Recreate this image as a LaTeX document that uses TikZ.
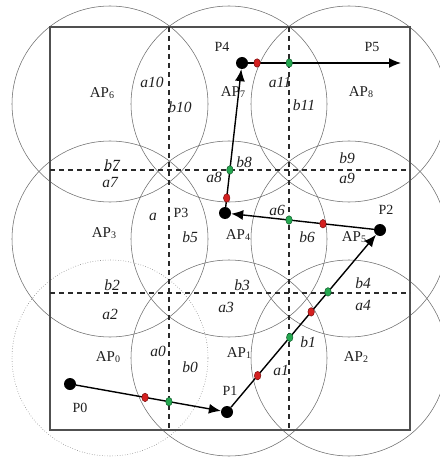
\documentclass[tikz,border=0pt]{standalone}
\usepackage{fontspec}
\setmainfont{Liberation Serif}
\usetikzlibrary{arrows.meta,calc,shapes.geometric}
\definecolor{Ink}{HTML}{1F1F1F}
\definecolor{Rim}{HTML}{6B6B6B}
\definecolor{Frame}{HTML}{505050}
\definecolor{Grid}{HTML}{2A2A2A}
\definecolor{Cross}{HTML}{D42020}
\definecolor{CrossEdge}{HTML}{7A1010}
\definecolor{Hand}{HTML}{25A850}
\definecolor{HandEdge}{HTML}{0F5C2B}
\newcommand\APsub[1]{AP\raisebox{-1pt}{\fontsize{10}{10}\selectfont#1}}
\tikzset{
  cell/.style={draw=Rim,circle,minimum size=196pt,inner sep=0pt,line width=.55pt},
  frame/.style={draw=Frame,line width=1.2pt},
  gridline/.style={draw=Grid,dash pattern=on 5pt off 4pt,line width=1.1pt},
  apname/.style={font=\fontsize{15}{15}\selectfont,text=Ink,inner sep=0pt},
  ptname/.style={font=\fontsize{14}{14}\selectfont,text=Ink,inner sep=0pt},
  zone/.style={font=\fontsize{15.5}{15.5}\selectfont\itshape,text=Ink,inner sep=0pt},
  stop/.style={circle,fill=black,minimum size=12pt,inner sep=0pt},
  reddot/.style={ellipse,draw=CrossEdge,fill=Cross,line width=.5pt,minimum width=6.5pt,minimum height=8.5pt,inner sep=0pt},
  greendot/.style={ellipse,draw=HandEdge,fill=Hand,line width=.5pt,minimum width=6.5pt,minimum height=8.5pt,inner sep=0pt},
  flow/.style={-{Latex[length=12pt,width=10pt]},draw=black,line width=1.4pt}
}
\begin{document}
\begin{tikzpicture}[x=1pt,y=-1pt]
  \useasboundingbox (0,0) rectangle (439,457);
  \node[cell,dotted] (c0) at (110,358) {};
  \node[cell] (c1) at (229,358) {};
  \node[cell] (c2) at (349,358) {};
  \node[cell] (c3) at (110,239) {};
  \node[cell] (c4) at (229,239) {};
  \node[cell] (c5) at (349,239) {};
  \node[cell] (c6) at (110,104) {};
  \node[cell] (c7) at (229,104) {};
  \node[cell] (c8) at (349,104) {};
  \draw[frame] (50,27) rectangle (410,430);
  \draw[gridline] (169,27) -- (169,430);
  \draw[gridline] (289,27) -- (289,430);
  \draw[gridline] (50,170) -- (410,170);
  \draw[gridline] (50,293) -- (410,293);

  \node[apname] (l6) at (102,93) {\APsub{6}};
  \node[apname] (l7) at (233,92) {\APsub{7}};
  \node[apname] (l8) at (361,92) {\APsub{8}};
  \node[apname] (l3) at (104,233) {\APsub{3}};
  \node[apname] (l4) at (238,235) {\APsub{4}};
  \node[apname] (l5) at (354,237) {\APsub{5}};
  \node[apname] (l0) at (108,357) {\APsub{0}};
  \node[apname] (l1) at (239,353) {\APsub{1}};
  \node[apname] (l2) at (356,357) {\APsub{2}};

  \node[ptname] (n0) at (80,408) {P0};
  \node[ptname] (n1) at (230,391) {P1};
  \node[ptname] (n2) at (386,210) {P2};
  \node[ptname] (n3) at (181,213) {P3};
  \node[ptname] (n4) at (222,47) {P4};
  \node[ptname] (n5) at (372,47) {P5};

  \node[zone] (za10) at (152,82) {a10};
  \node[zone] (zb10) at (180,107) {b10};
  \node[zone] (za11) at (280,82) {a11};
  \node[zone] (zb11) at (304,105) {b11};
  \node[zone] (zb7) at (112,165) {b7};
  \node[zone] (za7) at (110,183) {a7};
  \node[zone] (zb8) at (244,162) {b8};
  \node[zone] (za8) at (214,177) {a8};
  \node[zone] (zb9) at (347,158) {b9};
  \node[zone] (za9) at (347,178) {a9};
  \node[zone] (za5) at (153,217) {a};
  \node[zone] (zb5) at (190,237) {b5};
  \node[zone] (za6) at (277,210) {a6};
  \node[zone] (zb6) at (307,237) {b6};
  \node[zone] (zb2) at (112,285) {b2};
  \node[zone] (za2) at (110,314) {a2};
  \node[zone] (zb3) at (242,285) {b3};
  \node[zone] (za3) at (226,307) {a3};
  \node[zone] (zb4) at (363,283) {b4};
  \node[zone] (za4) at (363,305) {a4};
  \node[zone] (za0) at (158,351) {a0};
  \node[zone] (zb0) at (190,367) {b0};
  \node[zone] (za1) at (281,370) {a1};
  \node[zone] (zb1) at (308,342) {b1};

  \node[stop] (p0) at (70,384) {};
  \node[stop] (p1) at (227,412) {};
  \node[stop] (p2) at (380,230) {};
  \node[stop] (p3) at (225,213) {};
  \node[stop] (p4) at (242,63) {};
  \coordinate (p5) at (401,63);
  \draw[flow] (p0) -- (p1);
  \draw[flow] (p1) -- (p2);
  \draw[flow] (p2) -- (p3);
  \draw[flow] (p3) -- (p4);
  \draw[flow] (p4) -- (p5);

  \node[reddot] (r0) at ($(p0)!.478!(p1)$) {};
  \node[greendot] (g0) at ($(p0)!.63!(p1)$) {};
  \node[reddot] (r1) at ($(p1)!.2!(p2)$) {};
  \node[greendot] (g1) at ($(p1)!.41!(p2)$) {};
  \node[reddot] (r2) at ($(p1)!.55!(p2)$) {};
  \node[greendot] (g2) at ($(p1)!.66!(p2)$) {};
  \node[reddot] (r3) at ($(p2)!.368!(p3)$) {};
  \node[greendot] (g3) at ($(p2)!.587!(p3)$) {};
  \node[reddot] (r4) at ($(p3)!.1!(p4)$) {};
  \node[greendot] (g4) at ($(p3)!.287!(p4)$) {};
  \node[reddot] (r5) at ($(p4)!.095!(p5)$) {};
  \node[greendot] (g5) at ($(p4)!.297!(p5)$) {};
\end{tikzpicture}
\end{document}
